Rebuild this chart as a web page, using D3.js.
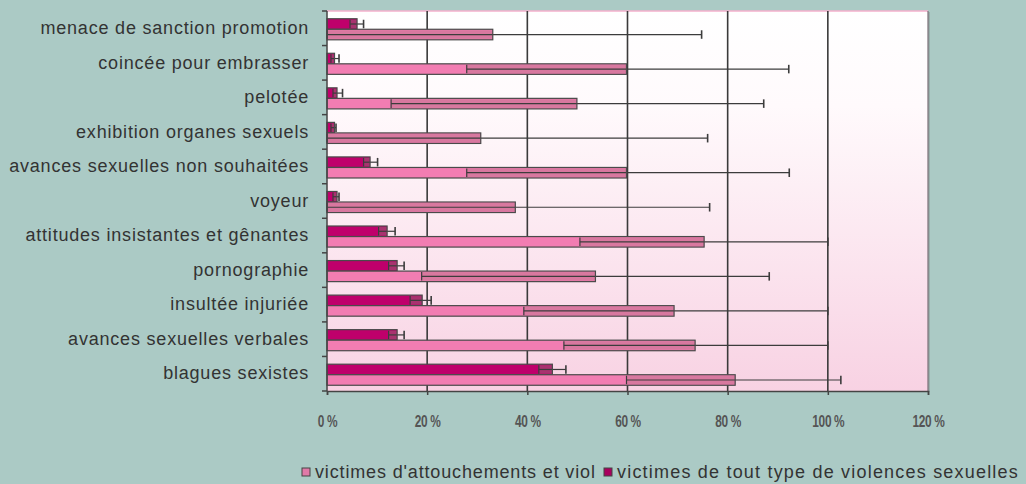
<!DOCTYPE html>
<html>
<head>
<meta charset="utf-8">
<script src="https://cdn.jsdelivr.net/npm/d3@7"></script>
<style>
  body { margin: 0; background: #abcac5; }
  svg { display: block; }
  text { font-family: "Liberation Sans", Arial, sans-serif; fill: #333; }
</style>
</head>
<body>
<svg width="1026" height="484"></svg>
<script>
var svg = d3.select("svg"),
	margin = {top: 11, right: 98, bottom: 93, left: 327},
	width = +svg.attr("width") - margin.left - margin.right,
	height = +svg.attr("height") - margin.top - margin.bottom;

// categories, top to bottom
let categories = ["menace de sanction promotion", "coincée pour embrasser", "pelotée",
	"exhibition organes sexuels", "avances sexuelles non souhaitées", "voyeur",
	"attitudes insistantes et gênantes", "pornographie", "insultée injuriée",
	"avances sexuelles verbales", "blagues sexistes"];

// victimes de tout type de violences sexuelles (dark bars)
let tous_val  = [6, 1.5, 2, 1.5, 8.6, 2, 12, 14, 19, 14, 45];
let tous_low  = [4.6, 0.8, 1.2, 0.8, 7.3, 1.2, 10.3, 12.3, 16.6, 12.3, 42.3];
let tous_high = [7.3, 2.4, 3.1, 1.8, 10.1, 2.4, 13.6, 15.4, 20.8, 15.4, 47.7];

// victimes d'attouchements et viol (light bars)
let att_val  = [33.1, 59.8, 49.9, 30.7, 59.8, 37.6, 75.3, 53.6, 69.3, 73.5, 81.5];
let att_low  = [0, 27.9, 12.8, 0, 27.9, 0, 50.5, 18.9, 39.3, 47.3, 59.8];
let att_high = [74.8, 92.2, 87.2, 76, 92.3, 76.4, 100, 88.3, 100, 100, 102.6];

let x_ticks = [0, 20, 40, 60, 80, 100, 120];
let legend_labels = ["victimes d'attouchements et viol", "victimes de tout type de violences sexuelles"];

var x = d3.scaleLinear()
	.domain([0, 120])
	.range([0, width]);

var y = d3.scaleBand()
	.domain(categories)
	.range([0, height]);

var sub = d3.scaleBand()
	.domain(["tous", "att"])
	.range([1, y.bandwidth() + 1])
	.paddingOuter(0.64);

var defs = svg.append("defs");
var grad = defs.append("linearGradient")
	.attr("id", "bg")
	.attr("x1", 0).attr("y1", 0).attr("x2", 0).attr("y2", 1);
grad.append("stop").attr("offset", "0%").attr("stop-color", "#ffffff");
grad.append("stop").attr("offset", "25%").attr("stop-color", "#fffafc");
grad.append("stop").attr("offset", "100%").attr("stop-color", "#f8d2e3");

var focus = svg.append("g")
	.attr("transform", "translate(" + margin.left + "," + margin.top + ")");

// plot background
focus.append("rect")
	.attr("x", 2).attr("y", 1)
	.attr("width", width).attr("height", height)
	.attr("fill", "#8a9c99")
	.attr("opacity", 0.6);
focus.append("rect")
	.attr("width", width).attr("height", height)
	.attr("fill", "url(#bg)");
focus.append("line")
	.attr("x1", 0).attr("x2", width)
	.attr("y1", 0).attr("y2", 0)
	.style("stroke", "#f4b0cc")
	.style("stroke-width", 1.5);
focus.append("line")
	.attr("x1", width).attr("x2", width)
	.attr("y1", 0).attr("y2", height)
	.style("stroke", "#7b6f77")
	.style("stroke-width", 1.2);

// gridlines
focus.selectAll(".grid")
	.data(x_ticks.slice(1, -1))
	.enter()
	.append("line")
	.attr("class", "grid")
	.attr("x1", d => x(d)).attr("x2", d => x(d))
	.attr("y1", 0).attr("y2", height)
	.style("stroke", "#3a3a3a")
	.style("stroke-width", 1.6);

// one row per category
let rows = categories.map(function(c, i) {
	return {cat: c,
		tous: [tous_val[i], tous_low[i], tous_high[i]],
		att: [att_val[i], att_low[i], att_high[i]]};
});

function draw_series(key, fill, over) {
	let bh = sub.bandwidth();
	let g = focus.selectAll(".s-" + key)
		.data(rows)
		.enter()
		.append("g")
		.attr("class", "s-" + key)
		.attr("transform", d => "translate(0," + (y(d.cat) + sub(key)) + ")");

	g.append("rect")
		.attr("x", 0)
		.attr("width", d => x(d[key][0]))
		.attr("height", bh)
		.attr("fill", fill);

	// overlap of error bar on the bar
	g.append("rect")
		.attr("x", d => x(Math.max(0, d[key][1])))
		.attr("y", 1)
		.attr("width", d => Math.max(0, x(d[key][0]) - x(d[key][1])))
		.attr("height", bh - 2)
		.attr("fill", over);

	g.append("line")
		.attr("x1", d => x(d[key][1])).attr("x2", d => x(d[key][2]))
		.attr("y1", bh / 2).attr("y2", bh / 2)
		.style("stroke", "#3c3c3c")
		.style("stroke-width", 1.2);

	g.append("line")
		.attr("x1", d => x(d[key][1])).attr("x2", d => x(d[key][1]))
		.attr("y1", 1).attr("y2", bh - 1)
		.style("stroke", "#3c3c3c")
		.style("stroke-width", 1.2);

	g.append("line")
		.attr("x1", d => x(d[key][2])).attr("x2", d => x(d[key][2]))
		.attr("y1", 1).attr("y2", bh - 1)
		.style("stroke", "#3c3c3c")
		.style("stroke-width", 1.6);

	g.append("rect")
		.attr("x", 0)
		.attr("width", d => x(d[key][0]))
		.attr("height", bh)
		.attr("fill", "none")
		.attr("stroke", "#4a4a4a")
		.attr("stroke-width", 1.2);
}

draw_series("tous", "#bf006b", "#a8336f");
draw_series("att", "#f27db2", "#d8789f");

// x axis
var xAxis = d3.axisBottom(x)
	.tickValues(x_ticks)
	.tickSize(4)
	.tickPadding(20)
	.tickFormat(d => d + " %");

var gx = focus.append("g")
	.attr("transform", "translate(0," + height + ")")
	.call(xAxis);
gx.select(".domain").attr("stroke", "#444").attr("stroke-width", 1.5);
gx.selectAll(".tick line").attr("stroke", "#444").attr("stroke-width", 1.5);
gx.selectAll(".tick text")
	.attr("transform", "scale(0.7,1)")
	.style("font-size", "17px")
	.style("font-weight", "bold")
	.style("letter-spacing", "-0.5px")
	.style("fill", "#555");

// y axis: labels at band centres, ticks at band edges
var yAxis = d3.axisLeft(y)
	.tickSize(0)
	.tickPadding(18);
var gy = focus.append("g").call(yAxis);
gy.select(".domain").remove();
gy.selectAll(".tick text")
	.style("font-size", "18px")
	.style("letter-spacing", "0.8px")
	.style("fill", "#333");

focus.append("line")
	.attr("x1", 0).attr("x2", 0)
	.attr("y1", 0).attr("y2", height)
	.style("stroke", "#444")
	.style("stroke-width", 1.5);
focus.selectAll(".ytick")
	.data(categories.concat([null]))
	.enter()
	.append("line")
	.attr("class", "ytick")
	.attr("x1", -5).attr("x2", 0)
	.attr("y1", (d, i) => i * y.step())
	.attr("y2", (d, i) => i * y.step())
	.style("stroke", "#444")
	.style("stroke-width", 1.5);

// legend
let legend_x = [302, 604];
let legend_spacing = ["0.85px", "1.2px"];
let legend_fill = ["#e07aa8", "#a8005e"];
let legend = svg.selectAll(".legend")
	.data(legend_labels)
	.enter()
	.append("g")
	.attr("class", "legend")
	.attr("transform", (d, i) => "translate(" + legend_x[i] + ",472)");
legend.append("rect")
	.attr("x", 0).attr("y", -4)
	.attr("width", 8).attr("height", 8)
	.attr("fill", (d, i) => legend_fill[i])
	.attr("stroke", "#444")
	.attr("stroke-width", 1);
legend.append("text")
	.attr("x", 13)
	.attr("dy", "0.35em")
	.style("font-size", "18px")
	.style("letter-spacing", (d, i) => legend_spacing[i])
	.style("fill", "#333")
	.text(d => d);
</script>
</body>
</html>
